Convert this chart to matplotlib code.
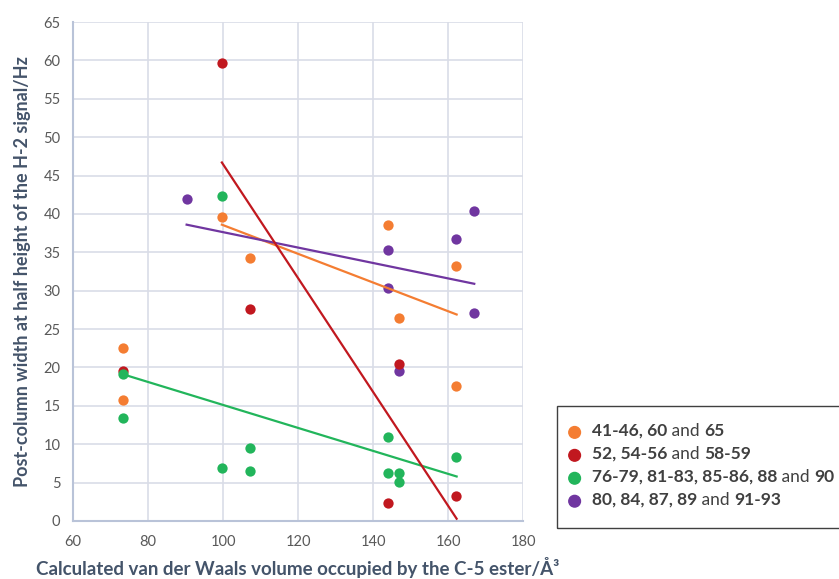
import numpy as np
import matplotlib.pyplot as plt
from matplotlib.offsetbox import (AnchoredOffsetbox, DrawingArea, HPacker,
                                  TextArea, VPacker)
from matplotlib.patches import Circle, Rectangle

plt.rcParams['font.family'] = ['Lato', 'DejaVu Sans']

# Series data (x = vdW volume, y = width/Hz)
orange_x = [73.4, 73.4, 99.7, 107.1, 143.9, 147.0, 162.1, 162.1]
orange_y = [22.6, 15.8, 39.6, 34.2, 38.6, 26.4, 33.2, 17.6]

red_x = [73.4, 99.7, 107.1, 147.0, 143.9, 162.1]
red_y = [19.5, 59.7, 27.6, 20.5, 2.3, 3.3]

green_x = [73.4, 73.4, 99.7, 99.7, 107.1, 107.1, 143.9, 143.9, 147.0, 147.0, 162.1]
green_y = [19.2, 13.4, 42.3, 6.9, 9.5, 6.5, 10.9, 6.3, 6.3, 5.1, 8.4]

purple_x = [90.3, 143.9, 143.9, 147.0, 162.1, 167.0, 167.0]
purple_y = [41.9, 35.3, 30.3, 19.5, 36.7, 40.4, 27.1]

# Linear trendlines (end points as drawn in the reference)
orange_trend_x = [99.7, 162.3]
orange_trend_y = [38.6, 26.9]
red_trend_x = [99.7, 162.3]
red_trend_y = [46.7, 0.3]
green_trend_x = [73.4, 162.3]
green_trend_y = [19.1, 5.8]
purple_trend_x = [90.3, 167.0]
purple_trend_y = [38.6, 30.9]

legend_parts = [
    [("41-46, 60", True), (" and ", False), ("65", True)],
    [("52, 54-56", True), (" and ", False), ("58-59", True)],
    [("76-79, 81-83, 85-86, 88", True), (" and ", False), ("90", True)],
    [("80, 84, 87, 89", True), (" and ", False), ("91-93", True)],
]

c_orange = '#f47d32'
c_red = '#c1181f'
c_green = '#22b55b'
c_purple = '#7036a0'

W, H = 839, 579
fig = plt.figure(figsize=(W / 100, H / 100), dpi=100)
ax = fig.add_axes([73 / W, 1 - 521 / H, 450 / W, 499 / H])

ms = 55
ax.scatter(purple_x, purple_y, s=ms, color=c_purple, zorder=3, linewidths=0)
ax.scatter(orange_x, orange_y, s=ms, color=c_orange, zorder=3, linewidths=0)
ax.scatter(red_x, red_y, s=ms, color=c_red, zorder=3, linewidths=0)
ax.scatter(green_x, green_y, s=ms, color=c_green, zorder=3, linewidths=0)

ax.plot(orange_trend_x, orange_trend_y, color=c_orange, lw=1.6, zorder=4)
ax.plot(purple_trend_x, purple_trend_y, color=c_purple, lw=1.6, zorder=4)
ax.plot(green_trend_x, green_trend_y, color=c_green, lw=1.6, zorder=4)
ax.plot(red_trend_x, red_trend_y, color=c_red, lw=1.6, zorder=4)

ax.set_xlim(60, 180)
ax.set_ylim(0, 65)
ax.set_xticks(np.arange(60, 181, 20))
ax.set_yticks(np.arange(0, 66, 5))
ax.grid(True, color='#d9dde7', lw=1.2)
ax.set_axisbelow(True)
for side in ['top', 'right']:
    ax.spines[side].set_visible(False)
for side in ['left', 'bottom']:
    ax.spines[side].set_color('#b9c3d8')
    ax.spines[side].set_linewidth(1.5)
ax.tick_params(length=0, labelsize=10.5, labelcolor='#595959')
ax.tick_params(axis='y', pad=9)
ax.tick_params(axis='x', pad=10)

label_color = '#44546a'
ax.set_ylabel('Post-column width at half height of the H-2 signal/Hz',
              fontsize=13, fontweight='bold', color=label_color, labelpad=9)
ax.set_xlabel('Calculated van der Waals volume occupied by the C-5 ester/Å³',
              fontsize=13.5, fontweight='bold', color=label_color, labelpad=6)

# Legend frame (runs off the right edge, as in the reference)
fig.patches.append(Rectangle((557 / W, 1 - 528 / H), 300 / W, 122 / H,
                             transform=fig.transFigure, fill=False,
                             edgecolor='#404040', lw=1.0))

# Legend with mixed bold / regular text
rows = []
for color, parts in zip([c_orange, c_red, c_green, c_purple], legend_parts):
    da = DrawingArea(11, 11, 0, 0)
    da.add_artist(Circle((5.5, 4.5), 4.2, color=color))
    texts = [TextArea(t, textprops=dict(fontsize=12.5,
                                        fontweight='bold' if b else 'normal',
                                        color='#404040'))
             for t, b in parts]
    rows.append(HPacker(children=[da, HPacker(children=texts, sep=0, pad=0)],
                        sep=7, pad=0, align='center'))
box = VPacker(children=rows, sep=5, pad=0, align='left')
anch = AnchoredOffsetbox(loc='upper left', child=box, pad=0, borderpad=0,
                         frameon=False, bbox_to_anchor=(567 / W, 1 - 423 / H),
                         bbox_transform=fig.transFigure)
fig.add_artist(anch)

fig.savefig('out.png', dpi=100)
